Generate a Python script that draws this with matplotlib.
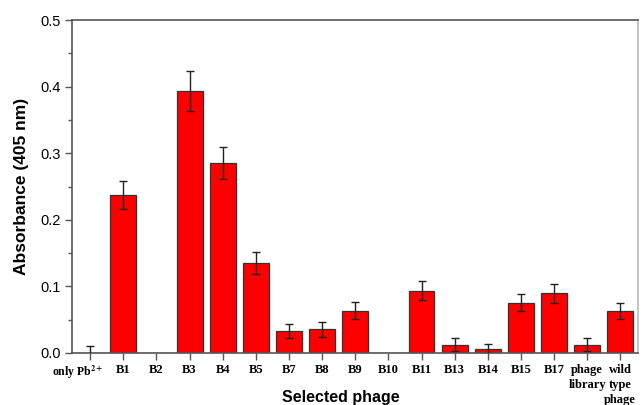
import matplotlib.pyplot as plt
import numpy as np

# absorbance of each selected phage clone
phages = ["only Pb$^{\\mathbf{2+}}$", "B1", "B2", "B3", "B4", "B5", "B7", "B8",
          "B9", "B10", "B11", "B13", "B14", "B15", "B17", "phage\nlibrary",
          "wild\ntype\nphage"]
absorb = [0.0, 0.237, 0.0, 0.394, 0.286, 0.135, 0.0325, 0.0355, 0.0635,
          0.0, 0.0935, 0.0125, 0.006, 0.0755, 0.0895, 0.0125, 0.0635]
errs = [0.01, 0.021, 0.0, 0.030, 0.024, 0.017, 0.0105, 0.011, 0.013,
        0.0, 0.014, 0.010, 0.008, 0.0125, 0.014, 0.010, 0.012]

plt.rcParams['mathtext.fontset'] = 'stix'

fig = plt.figure(figsize=(6.43, 4.05), dpi=100)
ax = fig.add_axes([0.112, 0.1284, 0.881, 0.8222])

x = np.arange(len(phages))
ax.bar(x, absorb, width=0.78, color="#ff0000", edgecolor="#333333",
       linewidth=0.9, zorder=2)
# error bars, skipping the blank ones
mask = np.array(errs) > 0
ax.errorbar(x[mask], np.array(absorb)[mask], yerr=np.array(errs)[mask],
            fmt="none", ecolor="#222222", elinewidth=1.0, capsize=3,
            capthick=1.0, zorder=3)

ax.set_xlim(-0.55, len(phages) - 0.45)
ax.set_ylim(0, 0.5)
ax.set_yticks(np.arange(0, 0.51, 0.1))
ax.set_yticks(np.arange(0.05, 0.5, 0.1), minor=True)
ax.set_yticklabels(["0.0", "0.1", "0.2", "0.3", "0.4", "0.5"],
                   fontfamily="Liberation Sans", fontsize=10.5)
ax.set_xticks(x)
tick_font = dict(fontfamily="Liberation Serif", fontweight="bold")
ax.set_xticklabels([""] + phages[1:], fontsize=9, va="top",
                   linespacing=1.3, **tick_font)
# first label is wide, so place it by hand a little left of its tick
ax.annotate(phages[0], xy=(x[0], 0), xycoords=("data", "axes fraction"),
            xytext=(-9, -8), textcoords="offset points", ha="center",
            va="top", fontsize=8.5, **tick_font)

for s in ax.spines.values():
    s.set_color("#555555")
    s.set_linewidth(1.2)
ax.spines["right"].set_color("#bbbbbb")
ax.tick_params(axis="both", which="major", direction="out", length=5,
               width=1, color="#555555", pad=3)
ax.tick_params(axis="y", which="minor", direction="out", length=3,
               width=1, color="#555555")
ax.tick_params(axis="x", pad=3)

ax.set_ylabel("Absorbance (405 nm)", fontfamily="Liberation Sans",
              fontweight="bold", fontsize=12.5, labelpad=8)
ax.set_xlabel("Selected phage", fontfamily="Liberation Sans",
              fontweight="bold", fontsize=11.5, labelpad=0)
ax.xaxis.set_label_coords(0.474, -0.11)

fig.savefig("out.png", dpi=100)
